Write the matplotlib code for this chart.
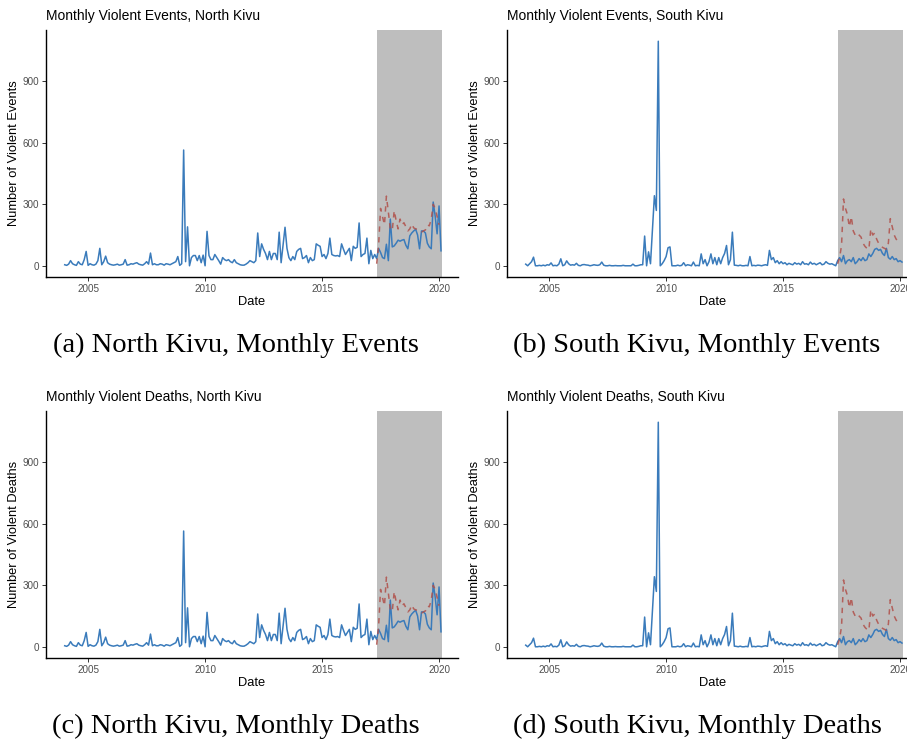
import numpy as np
import matplotlib
matplotlib.use("Agg")
import matplotlib.pyplot as plt

plt.rcParams["font.family"] = ["Liberation Sans", "DejaVu Sans"]

# monthly series, Jan 2004 .. Feb 2020
nk_events = [
    5, 2, 8, 25, 10, 5, 2, 20, 8, 5, 30, 70,            # 2004
    2, 10, 5, 3, 8, 25, 85, 5, 20, 47, 15, 8,           # 2005
    5, 3, 5, 8, 3, 5, 8, 30, 3, 5, 10, 8,               # 2006
    12, 15, 8, 5, 3, 10, 20, 8, 62, 5, 10, 5,           # 2007
    5, 10, 8, 3, 10, 8, 5, 10, 15, 20, 45, 2,           # 2008
    10, 565, 20, 190, 0, 40, 50, 50, 25, 50, 15, 52,    # 2009
    0, 168, 50, 30, 30, 55, 40, 25, 8, 40, 30, 25,      # 2010
    30, 20, 15, 30, 15, 10, 5, 3, 3, 8, 15, 25,         # 2011
    20, 15, 25, 160, 45, 107, 80, 60, 30, 70, 30, 60,   # 2012
    60, 30, 164, 15, 100, 188, 85, 40, 25, 45, 30, 70,  # 2013
    80, 85, 35, 40, 50, 15, 40, 25, 30, 107, 100, 95,   # 2014
    45, 55, 35, 60, 135, 55, 50, 48, 50, 45, 107, 80,   # 2015
    55, 70, 85, 25, 95, 85, 90, 209, 45, 55, 60, 135,   # 2016
    10, 75, 35, 55, 35, 85, 65, 40, 35, 105, 25, 228,   # 2017
    92, 97, 110, 125, 120, 125, 128, 100, 83, 146, 160, 170,  # 2018
    178, 150, 83, 170, 170, 160, 110, 92, 83, 311, 243, 156,  # 2019
    292, 73,                                             # 2020
]

sk_events = [
    8, 0, 10, 20, 42, 0, 0, 2, 0, 3, 0, 5,              # 2004
    3, 14, 0, 2, 0, 8, 34, 0, 5, 24, 10, 3,             # 2005
    5, 3, 12, 2, 0, 5, 6, 4, 3, 0, 2, 5,                # 2006
    3, 2, 5, 18, 3, 0, 0, 2, 0, 0, 1, 0,                # 2007
    0, 0, 2, 0, 0, 0, 0, 8, 0, 0, 2, 5,                 # 2008
    5, 145, 0, 68, 10, 175, 342, 270, 1096, 0, 10, 25,  # 2009
    45, 88, 92, 0, 0, 0, 3, 0, 2, 15, 0, 5,             # 2010
    3, 0, 18, 0, 2, 0, 58, 10, 30, 0, 20, 58,           # 2011
    10, 40, 5, 40, 10, 40, 60, 99, 5, 30, 164, 3,       # 2012
    2, 0, 3, 0, 0, 2, 0, 45, 0, 2, 0, 3,                # 2013
    2, 0, 3, 5, 2, 75, 30, 40, 15, 25, 10, 20,          # 2014
    10, 15, 5, 12, 8, 5, 15, 8, 12, 5, 20, 8,           # 2015
    10, 5, 18, 8, 12, 5, 10, 15, 5, 8, 20, 12,          # 2016
    8, 10, 5, 0, 25, 40, 20, 50, 10, 25, 30, 20,        # 2017
    40, 10, 20, 35, 25, 40, 25, 30, 58, 45, 60, 80,     # 2018
    85, 75, 80, 60, 50, 85, 40, 32, 45, 30, 35, 20,     # 2019
    25, 18,                                              # 2020
]

# counterfactual (dashed), May 2017 .. Jan 2020
nk_events_cf = [10, 100, 280, 240, 200, 340, 262, 180, 172, 269, 220, 180,
                228, 200, 210, 190, 170, 180, 204, 185, 180, 178, 170, 165,
                170, 175, 200, 195, 228, 300, 280, 240, 200]
sk_events_cf = [10, 40, 100, 326, 280, 250, 190, 240, 170, 150, 160, 150,
                140, 110, 95, 85, 80, 180, 150, 160, 130, 110, 100, 90,
                85, 80, 110, 230, 190, 150, 130, 120, 115]

# the deaths panels show the same curves as the events panels
nk_deaths = list(nk_events)
sk_deaths = list(sk_events)
nk_deaths_cf = list(nk_events_cf)
sk_deaths_cf = list(sk_events_cf)

cf_start = 160  # month index of May 2017

panels = [
    ("Monthly Violent Events, North Kivu", "Number of Violent Events",
     nk_events, nk_events_cf, "(a) North Kivu, Monthly Events"),
    ("Monthly Violent Events, South Kivu", "Number of Violent Events",
     sk_events, sk_events_cf, "(b) South Kivu, Monthly Events"),
    ("Monthly Violent Deaths, North Kivu", "Number of Violent Deaths",
     nk_deaths, nk_deaths_cf, "(c) North Kivu, Monthly Deaths"),
    ("Monthly Violent Deaths, South Kivu", "Number of Violent Deaths",
     sk_deaths, sk_deaths_cf, "(d) South Kivu, Monthly Deaths"),
]

W, H = 907, 740
fig = plt.figure(figsize=(W / 100, H / 100), dpi=100)

lefts = [46, 507]
tops = [30, 411]
aw, ah = 412, 247

for i, (title, ylab, obs, cf, cap) in enumerate(panels):
    left = lefts[i % 2]
    top = tops[i // 2]
    ax = fig.add_axes([left / W, 1 - (top + ah) / H, aw / W, ah / H])

    t_obs = 2004 + np.arange(len(obs)) / 12
    t_cf = 2004 + (cf_start + np.arange(len(cf))) / 12

    ax.axvspan(2017 + 4.2 / 12, 2020 + 1.6 / 12, color="#bebebe", lw=0, zorder=0)
    ax.plot(t_obs, obs, color="#3a7bbb", lw=1.1, zorder=2)
    ax.plot(t_cf, cf, color="#b0504a", lw=1.1, ls=(0, (3.5, 3.5)), alpha=0.85, zorder=3)

    ax.set_xlim(2003.2, 2020.81)
    ax.set_ylim(-54.8, 1150.8)
    ax.set_xticks([2005, 2010, 2015, 2020])
    ax.set_yticks([0, 300, 600, 900])
    ax.tick_params(labelsize=7.1, labelcolor="#4d4d4d", color="#333333",
                   length=3, width=0.7, pad=1.8)
    for s in ["top", "right"]:
        ax.spines[s].set_visible(False)
    for s in ["left", "bottom"]:
        ax.spines[s].set_linewidth(1.0)
        ax.spines[s].set_color("black")

    ax.set_title(title, loc="left", fontsize=10, pad=7)
    ax.set_xlabel("Date", fontsize=9.3, labelpad=1.5)
    ax.set_ylabel(ylab, fontsize=9.3, labelpad=2)

    fig.text((left + 190) / W, 1 - (top + 315) / H, cap,
             family=["Liberation Serif", "DejaVu Serif"], fontsize=20.5,
             ha="center", va="center")

fig.savefig("out.png", dpi=100)
